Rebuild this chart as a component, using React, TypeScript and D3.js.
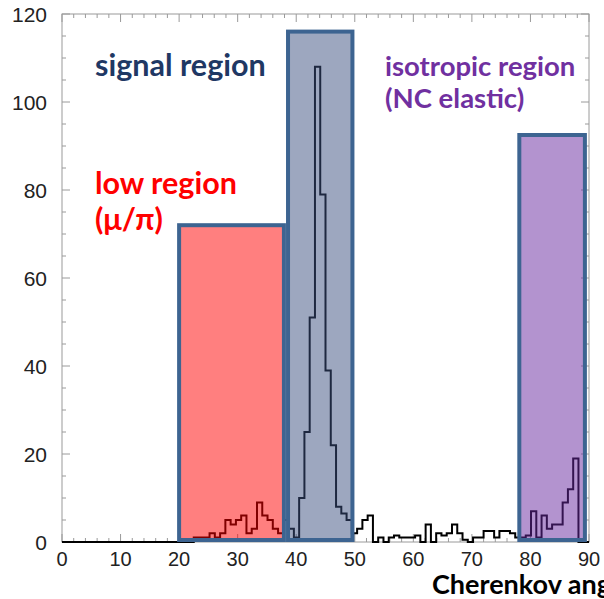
import React, { useEffect, useRef } from 'react';
import * as d3 from 'd3';

// histogram: 100 bins of 0.9 deg from 0 to 90
const binWidth = 0.9;
const counts = [
    0, 0, 0, 0, 0, 0, 0, 0, 0, 0,
    0, 0, 0, 0, 0, 0, 0, 0, 0, 0,
    0, 0, 0, 0, 0, 1, 1, 1, 2, 1,
    2, 5, 4, 5, 6, 2, 3, 9, 6, 5,
    3, 2, 5, 3, 1, 10, 25, 51, 108, 79,
    39, 22, 8, 6.5, 5, 2, 3, 5, 6, 0,
    1, 0, 1, 1.5, 1, 1, 1, 1.5, 0, 4,
    0, 2, 1.5, 2, 4, 2, 0.5, 0, 1, 1,
    2.5, 2.5, 1, 2.5, 2.5, 2, 1, 1, 1.5, 7,
    1, 6, 3, 4, 4, 9, 12, 19, 0, 0
];

// shaded regions
const regionNames = ['low', 'signal', 'isotropic'];
const regionLo = [20, 38.6, 78.1];
const regionHi = [37.9, 49.6, 89.3];
const regionTop = [72, 116, 92.5];
const regionFill = ['#ff0000', '#3b4f80', '#6828a0'];

const xTicks = [0, 10, 20, 30, 40, 50, 60, 70, 80, 90];
const yTicks = [0, 20, 40, 60, 80, 100, 120];

export default function App() {
    const svgRef = useRef<SVGSVGElement>(null);

    useEffect(() => {
        const svg = d3.select(svgRef.current);
        svg.selectAll('*').remove();

        const width = 604;
        const height = 599;
        const margin = { top: 14, right: 15, bottom: 57, left: 62 };

        const x = d3.scaleLinear().domain([0, 90]).range([margin.left, width - margin.right]);
        const y = d3.scaleLinear().domain([0, 120]).range([height - margin.bottom, margin.top]);

        svg.append('rect').attr('width', width).attr('height', height).attr('fill', '#fff');

        // frame
        svg.append('rect')
            .attr('x', x(0)).attr('y', y(120))
            .attr('width', x(90) - x(0)).attr('height', y(0) - y(120))
            .attr('fill', 'none').attr('stroke', '#9a9a9a').attr('stroke-width', 1);

        const tickCol = '#9a9a9a';
        const addXTicks = (pos, dir) => {
            svg.append('g').selectAll('line').data(d3.range(0, 91, 2)).join('line')
                .attr('x1', d => x(d)).attr('x2', d => x(d))
                .attr('y1', pos).attr('y2', d => pos + dir * (d % 10 === 0 ? 8 : 4))
                .attr('stroke', tickCol);
        };
        const addYTicks = (pos, dir) => {
            svg.append('g').selectAll('line').data(d3.range(0, 121, 5)).join('line')
                .attr('y1', d => y(d)).attr('y2', d => y(d))
                .attr('x1', pos).attr('x2', d => pos + dir * (d % 20 === 0 ? 8 : 4))
                .attr('stroke', tickCol);
        };
        addXTicks(y(0), -1);
        addXTicks(y(120), 1);
        addYTicks(x(0), 1);
        addYTicks(x(90), -1);

        // tick labels
        svg.append('g').selectAll('text').data(xTicks).join('text')
            .attr('x', d => x(d)).attr('y', y(0) + 24)
            .attr('text-anchor', 'middle')
            .attr('font-family', 'Liberation Sans, Arial, sans-serif')
            .attr('font-size', 20).attr('fill', '#222')
            .text(d => d);
        svg.append('g').selectAll('text').data(yTicks).join('text')
            .attr('x', x(0) - 15).attr('y', d => y(d) + 7.5)
            .attr('text-anchor', 'end')
            .attr('font-family', 'Liberation Sans, Arial, sans-serif')
            .attr('font-size', 21).attr('fill', '#222')
            .text(d => d);

        // histogram outline
        const pts = counts.map((c, i) => [i * binWidth, c] as [number, number]);
        pts.unshift([0, 0]);
        pts.push([90, counts[counts.length - 1]]);
        const line = d3.line<[number, number]>()
            .x(d => x(d[0])).y(d => y(d[1]))
            .curve(d3.curveStepAfter);
        svg.append('path')
            .attr('d', line(pts))
            .attr('fill', 'none').attr('stroke', '#000').attr('stroke-width', 2);

        // translucent regions over histogram
        svg.append('g').selectAll('rect').data(regionNames).join('rect')
            .attr('x', (d, i) => x(regionLo[i]))
            .attr('y', (d, i) => y(regionTop[i]))
            .attr('width', (d, i) => x(regionHi[i]) - x(regionLo[i]))
            .attr('height', (d, i) => y(0) - 2 - y(regionTop[i]))
            .attr('fill', (d, i) => regionFill[i]).attr('fill-opacity', 0.5)
            .attr('stroke', '#3d6491').attr('stroke-width', 4);

        const font = 'Lato, "Open Sans", sans-serif';
        const label = (txt, lx, ly, col, size) =>
            svg.append('text').attr('x', lx).attr('y', ly)
                .attr('font-family', font).attr('font-weight', 'bold')
                .attr('font-size', size).attr('fill', col).text(txt);

        label('signal region', 95, 76, '#1f3864', 30.5);
        label('isotropic region', 385, 76, '#7030a0', 27.5);
        label('(NC elastic)', 385, 108, '#7030a0', 27.5);
        label('low region', 95, 194, '#ff0000', 30.5);
        label('(μ/π)', 95, 230, '#ff0000', 30.5);

        svg.append('text')
            .attr('x', 432).attr('y', 594)
            .attr('font-family', font).attr('font-weight', 'bold')
            .attr('font-size', 27).attr('fill', '#000')
            .text('Cherenkov angle (deg)');
    }, []);

    return (
        <svg ref={svgRef} width={604} height={599}
            style={{ position: 'absolute', left: 0, top: 0, display: 'block' }} />
    );
}
